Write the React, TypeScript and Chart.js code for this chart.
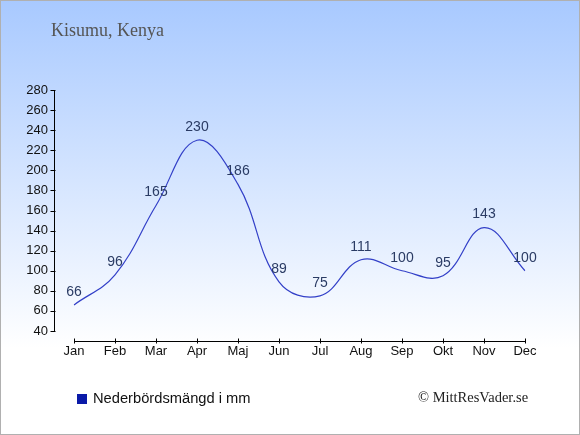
import React, { useEffect, useRef } from "react";
import { Chart, registerables } from "chart.js";

Chart.register(...registerables);

const months = ["Jan", "Feb", "Mar", "Apr", "Maj", "Jun", "Jul", "Aug", "Sep", "Okt", "Nov", "Dec"];
const rainfall = [66, 96, 165, 230, 186, 89, 75, 111, 100, 95, 143, 100];
const yMin = 40;
const yMax = 280;
const yStep = 20;
const titleText = "Kisumu, Kenya";
const legendText = "Nederbördsmängd i mm";
const creditText = "© MittResVader.se";

const decorPlugin = {
  id: "decor",
  beforeDraw(chart: any) {
    const { ctx, width, height } = chart;
    ctx.save();
    const g = ctx.createLinearGradient(0, 0, 0, height);
    g.addColorStop(0, "#a8c9ff");
    g.addColorStop(0.8, "#ffffff");
    g.addColorStop(1, "#ffffff");
    ctx.fillStyle = g;
    ctx.fillRect(0, 0, width, height);
    ctx.restore();
  },
  afterDraw(chart: any) {
    const { ctx, width, height, chartArea, scales } = chart;
    const x = scales.x;
    const y = scales.y;
    ctx.save();
    // title
    ctx.fillStyle = "#555555";
    ctx.font = '18px "Liberation Serif"';
    ctx.textBaseline = "middle";
    ctx.textAlign = "left";
    ctx.fillText(titleText, 51, 31);

    // y axis
    const ax = chartArea.left - 19.5;
    ctx.strokeStyle = "#000000";
    ctx.lineWidth = 1;
    ctx.beginPath();
    ctx.moveTo(ax, y.getPixelForValue(yMax));
    ctx.lineTo(ax, y.getPixelForValue(yMin));
    for (let v = yMin; v <= yMax; v += yStep) {
      const py = Math.round(y.getPixelForValue(v)) + 0.5;
      ctx.moveTo(ax - 4, py);
      ctx.lineTo(ax + 1, py);
    }
    ctx.stroke();

    // x axis
    const ay = chartArea.bottom + 10.5;
    ctx.beginPath();
    ctx.moveTo(x.getPixelForValue(0), ay);
    ctx.lineTo(x.getPixelForValue(months.length - 1), ay);
    for (let i = 0; i < months.length; i++) {
      const px = Math.round(x.getPixelForValue(i)) + 0.5;
      ctx.moveTo(px, ay - 3);
      ctx.lineTo(px, ay + 2);
    }
    ctx.stroke();

    // data labels
    ctx.fillStyle = "#2a3b64";
    ctx.font = '14px "Liberation Sans"';
    ctx.textAlign = "center";
    ctx.textBaseline = "middle";
    rainfall.forEach((v, i) => {
      ctx.fillText(String(v), x.getPixelForValue(i), y.getPixelForValue(v) - 13);
    });

    // legend
    ctx.fillStyle = "#0a1aa8";
    ctx.fillRect(77, 394, 10, 10);
    ctx.fillStyle = "#111111";
    ctx.font = '14.7px "Liberation Sans"';
    ctx.textAlign = "left";
    ctx.fillText(legendText, 93, 399);

    // credit
    ctx.fillStyle = "#222222";
    ctx.font = '14.5px "Liberation Serif"';
    ctx.fillText(creditText, 418, 398);

    // frame
    ctx.strokeStyle = "#b0b0b0";
    ctx.lineWidth = 2;
    ctx.strokeRect(0, 0, width, height);
    ctx.restore();
  },
};

export default function App() {
  const ref = useRef<HTMLCanvasElement>(null);
  useEffect(() => {
    if (!ref.current) return;
    const chart = new Chart(ref.current, {
      type: "line",
      data: {
        labels: months,
        datasets: [
          {
            label: legendText,
            data: rainfall,
            borderColor: "#3340c8",
            borderWidth: 1.2,
            pointRadius: 0,
            tension: 0.4,
            fill: false,
          },
        ],
      },
      options: {
        responsive: false,
        animation: false,
        layout: { padding: { left: 0, right: 55, top: 90, bottom: 0 } },
        plugins: { legend: { display: false }, title: { display: false }, tooltip: { enabled: false } },
        scales: {
          x: {
            type: "category",
            offset: false,
            grid: { display: false, drawTicks: false, tickLength: 0 },
            border: { display: false },
            ticks: {
              color: "#111111",
              font: { family: "Liberation Sans", size: 13 },
              padding: 13,
              maxRotation: 0,
              autoSkip: false,
            },
            afterFit(scale: any) {
              scale.height = 104;
            },
          },
          y: {
            min: yMin,
            max: yMax,
            grid: { display: false, drawTicks: false, tickLength: 0 },
            border: { display: false },
            ticks: {
              stepSize: yStep,
              color: "#111111",
              font: { family: "Liberation Sans", size: 13 },
              padding: 26,
            },
            afterFit(scale: any) {
              scale.width = 74;
            },
          },
        },
      },
      plugins: [decorPlugin],
    });
    return () => chart.destroy();
  }, []);
  return (
    <div style={{ position: "absolute", left: 0, top: 0, width: 580, height: 435 }}>
      <canvas ref={ref} width={580} height={435} style={{ display: "block" }} />
    </div>
  );
}
